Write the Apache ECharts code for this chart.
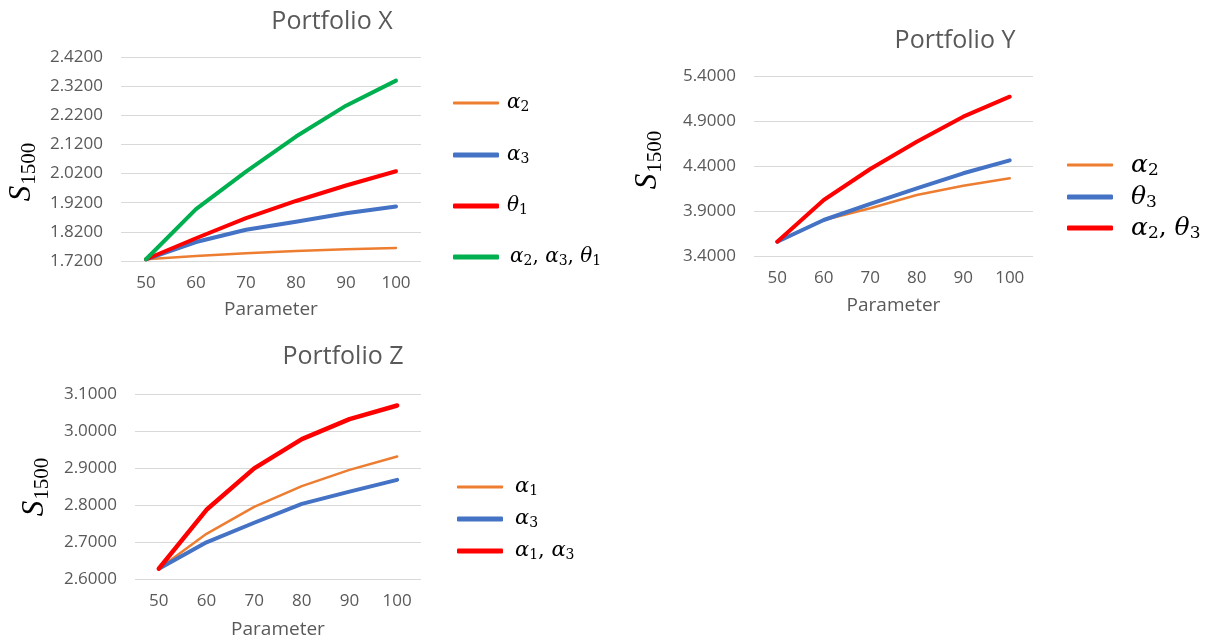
<!DOCTYPE html>
<html>
<head>
<meta charset="utf-8">
<script src="https://cdn.jsdelivr.net/npm/echarts@6/dist/echarts.min.js"></script>
<style>
  html, body { margin: 0; padding: 0; background: #fff; }
  #chart { width: 1215px; height: 641px; }
</style>
</head>
<body>
<div id="chart"></div>
<script>
// Shared x categories for all three panels
const parameters = ['50', '60', '70', '80', '90', '100'];

// Portfolio X
const xAlpha2 = [1.726, 1.737, 1.747, 1.754, 1.760, 1.765];
const xAlpha3 = [1.726, 1.785, 1.827, 1.855, 1.884, 1.907];
const xTheta1 = [1.726, 1.798, 1.867, 1.926, 1.979, 2.028];
const xAll = [1.726, 1.898, 2.027, 2.147, 2.253, 2.339];

// Portfolio Y
const yAlpha2 = [3.559, 3.800, 3.930, 4.078, 4.181, 4.263];
const yTheta3 = [3.559, 3.800, 3.978, 4.152, 4.319, 4.463];
const yBoth = [3.559, 4.022, 4.367, 4.670, 4.948, 5.170];

// Portfolio Z
const zAlpha1 = [2.628, 2.722, 2.795, 2.851, 2.895, 2.931];
const zAlpha3 = [2.628, 2.699, 2.752, 2.803, 2.836, 2.868];
const zBoth = [2.628, 2.787, 2.899, 2.978, 3.032, 3.069];

// Axis ranges [min, max, interval]
const xRange = [1.72, 2.42, 0.1];
const yRange = [3.4, 5.4, 0.5];
const zRange = [2.6, 3.1, 0.1];

const ORANGE = '#ED7D31', BLUE = '#4472C4', RED = '#FF0000', GREEN = '#00B050';
const TICK = '#595959', GRID = '#D9D9D9';
const SANS = 'Open Sans';
const SERIF = 'DejaVu Serif';

// Legend labels as rich text: Greek letter + subscript
function mathRich(size, gap) {
  return {
    p: { width: gap },
    g: { fontFamily: SERIF, fontStyle: 'italic', fontSize: size, color: '#000' },
    s: { fontFamily: SERIF, fontSize: Math.round(size * 0.68), color: '#000', padding: [Math.round(size * 0.45), 0, 0, 0] },
    c: { fontFamily: SERIF, fontSize: size, color: '#000' }
  };
}
const labels = {
  'X α2': '{g|α}{s|2}',
  'X α3': '{g|α}{s|3}',
  'X θ1': '{g|θ}{s|1}',
  'X all': '{g|α}{s|2}{c|, }{g|α}{s|3}{c|, }{g|θ}{s|1}',
  'Y α2': '{g|α}{s|2}',
  'Y θ3': '{g|θ}{s|3}',
  'Y both': '{g|α}{s|2}{c|, }{g|θ}{s|3}',
  'Z α1': '{g|α}{s|1}',
  'Z α3': '{g|α}{s|3}',
  'Z both': '{g|α}{s|1}{c|, }{g|α}{s|3}'
};

function legendItem(name, left, centerY, h, size, gap) {
  return {
    data: [{ name: name, icon: 'roundRect' }],
    left: left, top: centerY - 18, orient: 'vertical',
    itemWidth: 46, itemHeight: h, itemGap: 0, padding: 0,
    selectedMode: false,
    formatter: n => '{p|}' + labels[n],
    textStyle: { rich: mathRich(size, gap), height: 36, lineHeight: 36 }
  };
}

function valueAxis(gridIndex, range) {
  return {
    type: 'value', gridIndex: gridIndex,
    min: range[0], max: range[1], interval: range[2],
    axisLine: { show: false }, axisTick: { show: false },
    splitLine: { lineStyle: { color: GRID, width: 1 } },
    axisLabel: { color: TICK, fontFamily: SANS, fontSize: 17, margin: 18,
      formatter: v => v.toFixed(4) }
  };
}
function catAxis(gridIndex, nameGap) {
  return {
    type: 'category', gridIndex: gridIndex, data: parameters, boundaryGap: true,
    axisLine: { show: false }, axisTick: { show: false },
    axisLabel: { color: TICK, fontFamily: SANS, fontSize: 17, margin: 14 },
    name: 'Parameter', nameLocation: 'middle', nameGap: nameGap,
    nameTextStyle: { color: TICK, fontFamily: SANS, fontSize: 19 }
  };
}
function line(name, data, color, width, idx) {
  return {
    type: 'line', name: name, data: data, xAxisIndex: idx, yAxisIndex: idx,
    symbol: 'none', smooth: false, color: color,
    lineStyle: { color: color, width: width, cap: 'round', join: 'round' },
    z: 2
  };
}
function yName(x, y) {
  return {
    type: 'text', x: x, y: y, rotation: Math.PI / 2,
    style: {
      text: '{S|S}{n|1500}',
      align: 'center', verticalAlign: 'middle',
      rich: {
        S: { fontFamily: 'Liberation Serif', fontStyle: 'italic', fontSize: 31, fill: '#000' },
        n: { fontFamily: 'Liberation Serif', fontSize: 21, fill: '#000', padding: [15, 0, 0, 1] }
      }
    }
  };
}

const titleStyle = { color: TICK, fontFamily: SANS, fontSize: 25, fontWeight: 'normal' };

const chart = echarts.init(document.getElementById('chart'), null, { renderer: 'canvas' });
chart.setOption({
  backgroundColor: '#fff',
  animation: false,
  title: [
    { text: 'Portfolio X', left: 327, top: 4, textAlign: 'center', textStyle: titleStyle },
    { text: 'Portfolio Y', left: 950, top: 23, textAlign: 'center', textStyle: titleStyle },
    { text: 'Portfolio Z', left: 338, top: 339, textAlign: 'center', textStyle: titleStyle }
  ],
  grid: [
    { left: 121, top: 57, width: 300, height: 204 },
    { left: 754, top: 76, width: 279, height: 180 },
    { left: 135, top: 394, width: 286, height: 185 }
  ],
  xAxis: [catAxis(0, 39), catAxis(1, 40), catAxis(2, 41)],
  yAxis: [valueAxis(0, xRange), valueAxis(1, yRange), valueAxis(2, zRange)],
  legend: [
    legendItem('X α2', 453, 103, 3, 20, 3),
    legendItem('X α3', 453, 155, 5, 20, 3),
    legendItem('X θ1', 453, 206, 5, 20, 3),
    legendItem('X all', 453, 257, 5, 20, 6),
    legendItem('Y α2', 1067, 165, 3, 25, 13),
    legendItem('Y θ3', 1067, 197, 5, 25, 13),
    legendItem('Y both', 1067, 228, 5, 25, 13),
    legendItem('Z α1', 457, 487, 3, 21, 7),
    legendItem('Z α3', 457, 519, 5, 21, 7),
    legendItem('Z both', 457, 551, 5, 21, 7)
  ],
  graphic: [yName(22, 172), yName(648, 160), yName(35, 487)],
  series: [
    line('X α2', xAlpha2, ORANGE, 2.5, 0),
    line('X α3', xAlpha3, BLUE, 4, 0),
    line('X θ1', xTheta1, RED, 4, 0),
    line('X all', xAll, GREEN, 4, 0),
    line('Y α2', yAlpha2, ORANGE, 2.5, 1),
    line('Y θ3', yTheta3, BLUE, 4, 1),
    line('Y both', yBoth, RED, 4, 1),
    line('Z α1', zAlpha1, ORANGE, 2.5, 2),
    line('Z α3', zAlpha3, BLUE, 4, 2),
    line('Z both', zBoth, RED, 4.5, 2)
  ]
});
</script>
</body>
</html>
